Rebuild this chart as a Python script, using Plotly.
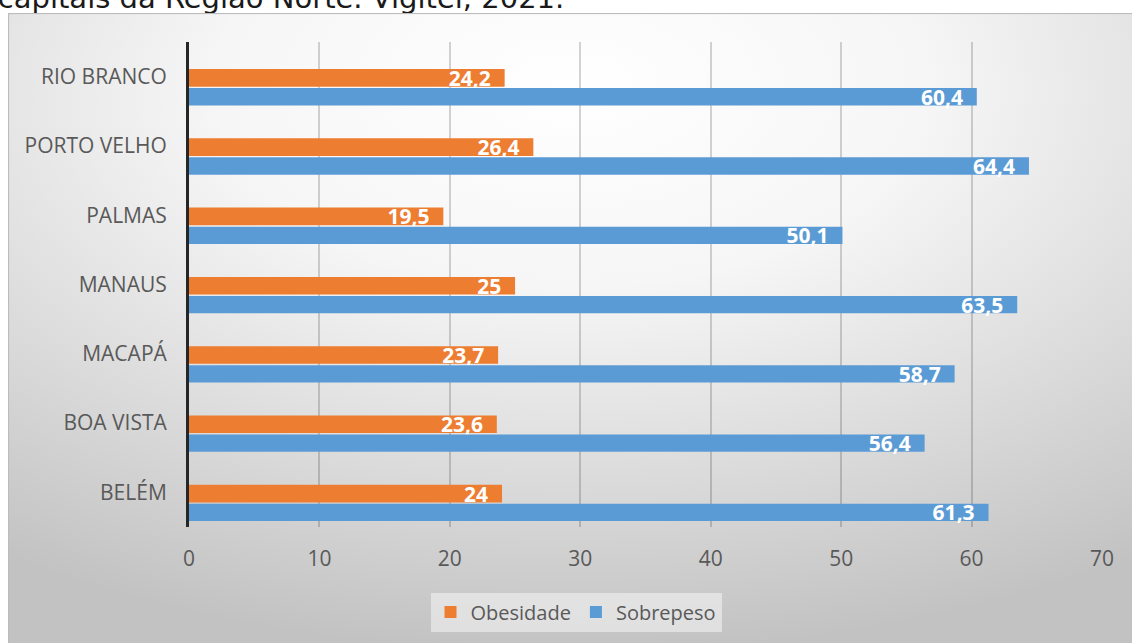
import base64
import plotly.graph_objects as go

# ---- data ----
categories = ["BELÉM", "BOA VISTA", "MACAPÁ", "MANAUS", "PALMAS", "PORTO VELHO", "RIO BRANCO"]
obesidade = [24, 23.6, 23.7, 25, 19.5, 26.4, 24.2]
sobrepeso = [61.3, 56.4, 58.7, 63.5, 50.1, 64.4, 60.4]
x_ticks = [0, 10, 20, 30, 40, 50, 60, 70]
title_text = "capitais da Região Norte. Vigitel, 2021."

ORANGE = "#ED7D31"
BLUE = "#5B9BD5"
GRAY_TXT = "#595959"
W, H = 1132, 643
ML, MR, MT, MB = 0, 30, 0, 116
PW, PH = W - ML - MR, H - MT - MB
AX_LEFT = 189
PLOT_TOP = 42
FRAME_X, FRAME_Y = 8, 13
FS = 21


def fmt(v):
    return ("%g" % v).replace(".", ",") + "\u00a0\u00a0"


svg = (
    "<svg xmlns='http://www.w3.org/2000/svg' width='1124' height='630' viewBox='0 0 1124 630' preserveAspectRatio='none'>"
    "<defs><radialGradient id='g' cx='0.5' cy='0.12' r='0.9'>"
    "<stop offset='0' stop-color='#ffffff'/><stop offset='0.35' stop-color='#f6f6f6'/>"
    "<stop offset='1' stop-color='#c2c2c2'/></radialGradient></defs>"
    "<rect x='0' y='0' width='1124' height='630' fill='url(#g)'/>"
    "<rect x='0.5' y='0.5' width='1130' height='640' fill='none' stroke='#bcbcbc' stroke-width='1.2'/>"
    "</svg>"
)
bg_src = "data:image/svg+xml;base64," + base64.b64encode(svg.encode("utf-8")).decode("ascii")

fig = go.Figure()

fig.add_trace(go.Bar(
    y=categories, x=obesidade, orientation="h", name="Obesidade",
    marker=dict(color=ORANGE, line=dict(width=0)),
    offset=-0.145, width=0.255,
    text=[fmt(v) for v in obesidade], textposition="inside", insidetextanchor="end",
    textangle=0,
    textfont=dict(family="Open Sans", size=FS, color="white", weight="bold"),
    hoverinfo="skip",
))
fig.add_trace(go.Bar(
    y=categories, x=sobrepeso, orientation="h", name="Sobrepeso",
    marker=dict(color=BLUE, line=dict(width=0)),
    offset=-0.415, width=0.25,
    text=[fmt(v) for v in sobrepeso], textposition="inside", insidetextanchor="end",
    textangle=0,
    textfont=dict(family="Open Sans", size=FS, color="white", weight="bold"),
    hoverinfo="skip",
))

# title strip, clipped at the chart frame
fig.add_trace(go.Scatter(
    x=[-0.002], y=[0.92], mode="text", text=[title_text], textposition="middle right",
    textfont=dict(family="DejaVu Sans", size=29, color="#1a1a1a"),
    xaxis="x2", yaxis="y2", cliponaxis=True, showlegend=False, hoverinfo="skip",
))

fig.update_layout(
    width=W, height=H,
    margin=dict(l=ML, r=MR, t=MT, b=MB, pad=0),
    paper_bgcolor="white", plot_bgcolor="rgba(0,0,0,0)",
    barmode="overlay",
    uniformtext=dict(minsize=FS, mode="show"),
    font=dict(family="Open Sans", color=GRAY_TXT),
    xaxis=dict(
        domain=[AX_LEFT / PW, 1], anchor="y", range=[0, 70],
        tickvals=x_ticks, ticktext=[str(t) for t in x_ticks],
        showgrid=True, gridcolor="rgba(0,0,0,0.17)", gridwidth=1.5,
        zeroline=False, showline=False, ticks="",
        tickfont=dict(family="Open Sans", size=FS, color=GRAY_TXT),
        ticklabelstandoff=17, automargin=False, fixedrange=True,
    ),
    yaxis=dict(
        domain=[0, (PH - PLOT_TOP) / PH], anchor="x",
        categoryorder="array", categoryarray=categories, range=[-0.5, 6.5],
        showgrid=False, zeroline=False, showline=True, linecolor="#262626", linewidth=3,
        ticks="", tickfont=dict(family="Open Sans", size=FS, color=GRAY_TXT),
        ticklabelstandoff=15, automargin=False, fixedrange=True,
    ),
    xaxis2=dict(domain=[0, 1], anchor="y2", range=[0, 1], visible=False, fixedrange=True),
    yaxis2=dict(domain=[1 - FRAME_Y / PH, 1], anchor="x2", range=[0, 1], visible=False, fixedrange=True),
    legend=dict(
        orientation="h", x=576 / PW, xanchor="center", y=(PH - 612) / PH, yanchor="middle",
        bgcolor="rgba(245,245,245,0.55)", borderwidth=0,
        font=dict(family="Open Sans", size=20, color=GRAY_TXT),
        itemclick=False, itemdoubleclick=False,
    ),
    showlegend=True,
    images=[dict(
        source=bg_src, xref="paper", yref="paper",
        x=FRAME_X / PW, y=1 - FRAME_Y / PH,
        sizex=(W - FRAME_X) / PW, sizey=(H - FRAME_Y) / PH,
        xanchor="left", yanchor="top", sizing="stretch", layer="below",
    )],
)

fig.write_html("out.html")
